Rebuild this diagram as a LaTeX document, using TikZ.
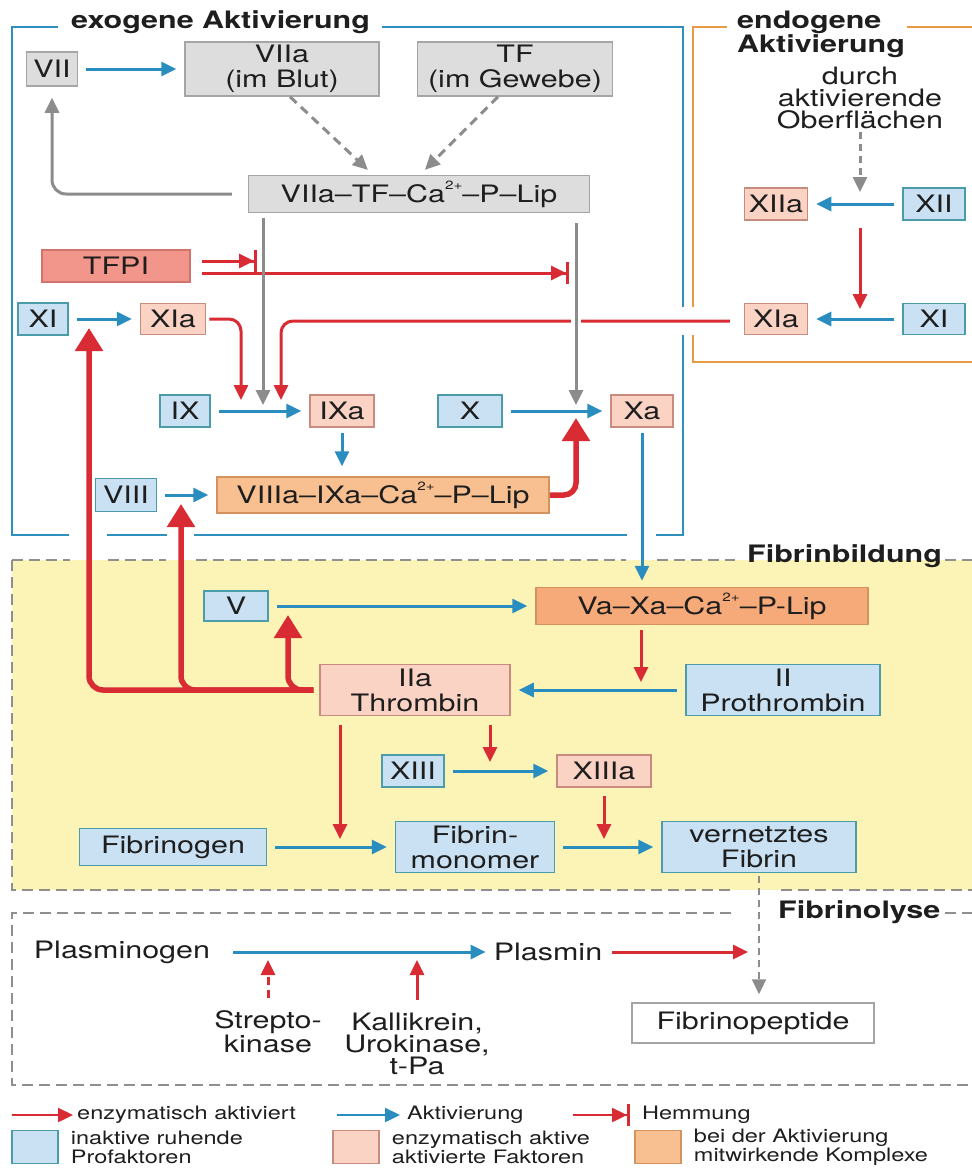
\documentclass[tikz,border=0pt]{standalone}
\usepackage{fontspec}
\setmainfont{TeX Gyre Heros}[FakeStretch=1.27]
\usepackage{tikz}
\usetikzlibrary{arrows.meta, positioning}
\definecolor{AktBlau}    {HTML}{2A8DC0}
\definecolor{EnzRot}     {HTML}{D92B33}
\definecolor{PfeilGrau}  {HTML}{8C8C8C}
\definecolor{ExoBlau}    {HTML}{2F8FBF}
\definecolor{EndoOrange} {HTML}{E99A45}
\definecolor{ProFill}    {HTML}{C9E1F3}
\definecolor{ProRand}    {HTML}{4A9DA8}
\definecolor{AktFill}    {HTML}{FAD3C4}
\definecolor{AktRand}    {HTML}{C98B7E}
\definecolor{KomFill}    {HTML}{F8BF91}
\definecolor{KomRand}    {HTML}{D4925F}
\definecolor{VaFill}     {HTML}{F6AA79}
\definecolor{TfpiFill}   {HTML}{F2958B}
\definecolor{TfpiRand}   {HTML}{D0736C}
\definecolor{GrauFill}   {HTML}{DDDDDD}
\definecolor{GrauRand}   {HTML}{A5A5A5}
\definecolor{GelbFill}   {HTML}{FCF4B6}
\definecolor{StrichGrau} {HTML}{8F8F8F}
\definecolor{TextDunkel} {HTML}{1E1E1E}
\newcommand{\hoch}[1]{\raisebox{0.55em}{\fontsize{12}{12}\selectfont #1}}

\begin{document}
\begin{tikzpicture}[x=1pt, y=-1pt,
		font=\fontsize{24}{25}\selectfont, text=TextDunkel,
		fbox/.style={draw, line width=1.5pt, inner sep=0pt, align=center},
		inaktiv/.style={fbox, draw=ProRand, fill=ProFill},
		aktiv/.style={fbox, draw=AktRand, fill=AktFill},
		komplex/.style={fbox, draw=KomRand, fill=KomFill},
		grau/.style={fbox, draw=GrauRand, fill=GrauFill},
		akt/.style={-{Triangle[length=15pt, width=14pt]}, AktBlau, line width=3pt,
			shorten <=8pt, shorten >=8pt},
		enz/.style={-{Triangle[length=15pt, width=14pt]}, EnzRot, line width=3pt},
		enzdick/.style={-{Triangle[length=23pt, width=27pt]}, EnzRot, line width=5.5pt,
			rounded corners=14pt},
		hemm/.style={-{Triangle[length=15pt, width=14pt] Bar[width=22pt, line width=3pt]},
			EnzRot, line width=3pt},
		gr/.style={-{Triangle[length=15pt, width=14pt]}, PfeilGrau, line width=3pt},
		rahmen/.style={line width=2.6pt},
		strich/.style={StrichGrau, line width=2.2pt, dash pattern=on 11pt off 6pt},
		titel/.style={font=\fontsize{24}{22}\selectfont\bfseries, inner sep=0pt},
		legtext/.style={font=\fontsize{18.5}{19}\selectfont, inner sep=0pt, align=left},
		]
		% ── Hintergrund ──────────────────────────────────────────────────────────────
		\fill[white] (0,0) rectangle (972,1171);
		\useasboundingbox (0,0) rectangle (972,1171);
		\fill[GelbFill] (12,560) rectangle (972,890);
		% ── Rahmen: exogen / endogen ─────────────────────────────────────────────────
		\draw[ExoBlau, rahmen] (58,27) -| (12,535) -- (69,535)
			(107,535) -- (167,535) (194,535) -- (627,535)
			(656,535) -| (683,335) (683,307) |- (382,27);
		\node[titel, anchor=base west] (exotitel) at (71,28) {exogene Aktivierung};
		\draw[EndoOrange, rahmen] (727,27) -| (693,307) (693,335) |- (972,362);
		\draw[EndoOrange, rahmen] (907,27) -- (972,27);
		\node[titel, anchor=north west, align=left] (endotitel) at (737,11) {endogene\\Aktivierung};
		% ── Rahmen: Fibrinbildung / Fibrinolyse ──────────────────────────────────────
		\draw[strich] (12,560) -- (70,560) (108,560) -- (166,560) (196,560) -- (626,560)
			(657,560) -- (735,560) (945,560) -- (972,560);
		\draw[strich] (12,560) |- (735,890) (781,890) -- (972,890);
		\node[titel, anchor=base west] (bildtitel) at (747,562) {Fibrinbildung};
		\draw[strich] (731,913) -| (12,1085) -- (972,1085) (945,913) -- (972,913);
		\node[titel, anchor=base west] (lysetitel) at (778,918) {Fibrinolyse};
		% ── Faktoren exogen ──────────────────────────────────────────────────────────
		\node[grau, minimum width=51pt, minimum height=34pt]    (vii)   at (52,69)   {VII};
		\node[grau, minimum width=194pt, minimum height=54pt]   (viia)  at (282,69)  {VIIa\\(im Blut)};
		\node[grau, minimum width=195pt, minimum height=54pt]   (tf)    at (515,69)  {TF\\(im Gewebe)};
		\node[grau, minimum width=341pt, minimum height=37pt]   (komplexVII) at (419,194)
			{VIIa--TF--Ca\hoch{2+}--P--Lip};
		\node[fbox, draw=TfpiRand, fill=TfpiFill, minimum width=148pt, minimum height=32pt]
			(tfpi) at (116,266) {TFPI};
		\node[inaktiv, minimum width=50pt, minimum height=32pt] (xi)    at (43,319)  {XI};
		\node[aktiv,   minimum width=65pt, minimum height=31pt] (xia)   at (173,319) {XIa};
		\node[inaktiv, minimum width=50pt, minimum height=32pt] (ix)    at (185,411) {IX};
		\node[aktiv,   minimum width=64pt, minimum height=32pt] (ixa)   at (342,411) {IXa};
		\node[inaktiv, minimum width=64pt, minimum height=32pt] (fx)    at (470,411) {X};
		\node[aktiv,   minimum width=62pt, minimum height=32pt] (fxa)   at (642,411) {Xa};
		\node[inaktiv, minimum width=61pt, minimum height=33pt] (viii)  at (126,495) {VIII};
		\node[komplex, minimum width=332pt, minimum height=36pt] (komplexVIII) at (383,495)
			{VIIIa--IXa--Ca\hoch{2+}--P--Lip};
		% ── Faktoren endogen ─────────────────────────────────────────────────────────
		\node[inner sep=0pt, align=center, font=\fontsize{24}{22}\selectfont] (durch) at (860,98)
			{durch\\aktivierende\\Oberflächen};
		\node[aktiv,   minimum width=63pt, minimum height=32pt] (xiia)  at (776,204) {XIIa};
		\node[inaktiv, minimum width=62pt, minimum height=32pt] (xii)   at (934,204) {XII};
		\node[aktiv,   minimum width=63pt, minimum height=31pt] (xiar)  at (776,319) {XIa};
		\node[inaktiv, minimum width=62pt, minimum height=31pt] (xir)   at (934,319) {XI};
		% ── Fibrinbildung ────────────────────────────────────────────────────────────
		\node[inaktiv, minimum width=64pt, minimum height=30pt] (fv)    at (236,606) {V};
		\node[fbox, draw=KomRand, fill=VaFill, minimum width=332pt, minimum height=37pt]
			(komplexV) at (702,606) {Va--Xa--Ca\hoch{2+}--P-Lip};
		\node[aktiv,   minimum width=190pt, minimum height=51pt] (iia)  at (415,690) {IIa\\Thrombin};
		\node[inaktiv, minimum width=194pt, minimum height=51pt] (ii)   at (783,690) {II\\Prothrombin};
		\node[inaktiv, minimum width=62pt, minimum height=32pt] (xiii)  at (413,771) {XIII};
		\node[aktiv,   minimum width=94pt, minimum height=32pt] (xiiia) at (604,771) {XIIIa};
		\node[inaktiv, minimum width=187pt, minimum height=37pt] (fgen) at (173,847) {Fibrinogen};
		\node[inaktiv, minimum width=159pt, minimum height=51pt] (fmono) at (475,847) {Fibrin-\\monomer};
		\node[inaktiv, minimum width=194pt, minimum height=51pt] (fvern) at (759,847) {vernetztes\\Fibrin};
		% ── Fibrinolyse ──────────────────────────────────────────────────────────────
		\node[inner sep=0pt]                (plg)     at (122,952)  {Plasminogen};
		\node[inner sep=0pt]                (plasmin) at (548,952)  {Plasmin};
		\node[inner sep=0pt, align=center, font=\fontsize{24}{22}\selectfont]
			(strepto) at (268,1032) {Strepto-\\kinase};
		\node[inner sep=0pt, align=center, font=\fontsize{24}{21}\selectfont]
			(kalli) at (417,1044) {Kallikrein,\\Urokinase,\\t-Pa};
		\node[fbox, draw=GrauRand, fill=white, minimum width=242pt, minimum height=40pt]
			(fpep) at (753,1023) {Fibrinopeptide};
		% ── Hilfspunkte auf den Pfeilen ──────────────────────────────────────────────
		\coordinate (gIX)   at (263,411);
		\coordinate (gX)    at (576,411);
		\coordinate (rIX1)  at (241,411);
		\coordinate (rIX2)  at (281,411);
		\coordinate (hIX)   at (257,261);
		\coordinate (hX)    at (569,273);
		\coordinate (tXI)   at (89,319);
		\coordinate (tVIII) at (181,495);
		\coordinate (tV)    at (288,606);
		\coordinate (rII)   at (641,690);
		\coordinate (rMono) at (340,847);
		\coordinate (rXIII) at (490,771);
		% ── Aktivierung (blau) ───────────────────────────────────────────────────────
		\foreach \a/\b in {vii/viia, xi/xia, ix/ixa, fx/fxa, viii/komplexVIII,
			fv/komplexV, ii/iia, xiii/xiiia, fgen/fmono, fmono/fvern, xii/xiia, xir/xiar}
		\draw[akt] (\a) -- (\b);
		\draw[akt, shorten <=5pt, shorten >=10pt] (ixa.south) -- (ixa.south |- komplexVIII.north);
		\draw[akt, shorten <=5pt, shorten >=6pt] (fxa.south) -- (fxa.south |- komplexV.north);
		\draw[akt, shorten <=23pt] (plg) -- (plasmin);
		% ── grau: Komplexbildung ─────────────────────────────────────────────────────
		\draw[gr, dash pattern=on 9pt off 6pt, shorten >=7pt]
			([xshift=8pt]viia.south) -- ([xshift=-46pt]komplexVII.north);
		\draw[gr, dash pattern=on 9pt off 6pt, shorten >=7pt]
			([xshift=-17pt]tf.south) -- ([xshift=1pt]komplexVII.north);
		\draw[gr, rounded corners=14pt, shorten <=16pt, shorten >=11pt] (komplexVII.west) -| (vii.south);
		\draw[gr, dash pattern=on 7pt off 5pt, shorten <=3pt, shorten >=12pt]
			(durch.south) -- (durch.south |- xii.west);
		% ── enzymatisch aktiviert (rot) ──────────────────────────────────────────────
		\draw[enz, rounded corners=12pt, shorten <=3pt, shorten >=11pt] (xia.east) -| (rIX1);
		\draw[enz, rounded corners=12pt, shorten <=14pt, shorten >=11pt]
			([yshift=-2pt]xiar.west) -| (rIX2);
		\draw[enz, shorten <=7pt, shorten >=10pt] (durch.south |- xiia.south) -- (durch.south |- xir.west);
		\draw[enz, shorten <=5pt, shorten >=8pt] (rII |- komplexV.south) -- (rII);
		\draw[enz, shorten <=9pt, shorten >=8pt] (rMono |- iia.south) -- (rMono);
		\draw[enz, shorten <=9pt, shorten >=9pt] (rXIII |- iia.south) -- (rXIII);
		\draw[enz, shorten <=8pt, shorten >=8pt] (xiiia.south) -- (xiiia.south |- fvern.west);
		\draw[enz, shorten <=10pt, shorten >=11pt] (plasmin.east) -- (fvern.south |- plasmin.east);
		\draw[enz, dash pattern=on 8pt off 5pt, shorten >=8pt]
			([yshift=13pt]strepto.north) -- (strepto.north |- plg.east);
		\draw[enz, shorten >=8pt] ([yshift=13pt]kalli.north) -- (kalli.north |- plg.east);
		% Thrombin wirkt zurück auf XI, VIII und V
		\foreach \z in {tXI, tVIII, tV}
		\draw[enzdick, shorten <=6pt, shorten >=9pt] (iia.west) -| (\z);
		\draw[enzdick, rounded corners=12pt, shorten >=7pt] (komplexVIII.east) -| (gX);
		% ── Hemmung durch TFPI ───────────────────────────────────────────────────────
		\draw[hemm, shorten <=11pt] (tfpi.east |- hIX) -- (hIX);
		\draw[hemm, shorten <=11pt] (tfpi.east |- hX) -- (hX);
		% ── grau: VIIa-TF-Komplex auf IX und X ───────────────────────────────────────
		\draw[gr, shorten <=5pt, shorten >=6pt] (gIX |- komplexVII.south) -- (gIX);
		\draw[gr, shorten <=10pt, shorten >=6pt, preaction={draw=white, line width=10pt, -}]
			(gX |- komplexVII.south) -- (gX);
		\draw[gr, line width=2.2pt, dash pattern=on 7pt off 5pt, shorten <=3pt, shorten >=8pt]
			(fvern.south) -- (fvern.south |- fpep.north);
		% ── Legende ──────────────────────────────────────────────────────────────────
		\node[legtext, anchor=west] (lenz)  at (77,1115)  {enzymatisch aktiviert};
		\node[legtext, anchor=west] (lakt)  at (407,1115) {Aktivierung};
		\node[legtext, anchor=west] (lhemm) at (642,1115) {Hemmung};
		\draw[enz, line width=2.4pt, shorten >=4pt] ([xshift=-65pt]lenz.west) -- (lenz.west);
		\draw[akt, line width=2.4pt, shorten <=0pt, shorten >=7pt] ([xshift=-70pt]lakt.west) -- (lakt.west);
		\draw[hemm, line width=2.4pt, shorten >=12pt] ([xshift=-69pt]lhemm.west) -- (lhemm.west);
		\node[inaktiv, minimum width=46pt, minimum height=33pt] (qpro) at (35,1147)  {};
		\node[aktiv,   minimum width=46pt, minimum height=33pt] (qakt) at (356,1147) {};
		\node[komplex, minimum width=46pt, minimum height=33pt] (qkom) at (658,1147) {};
		\node[legtext, right=12pt of qpro] (tpro) {inaktive ruhende\\Profaktoren};
		\node[legtext, right=12pt of qakt] (takt) {enzymatisch aktive\\aktivierte Faktoren};
		\node[legtext, right=12pt of qkom] (tkom) {bei der Aktivierung\\mitwirkende Komplexe};
	\end{tikzpicture}
\end{document}
